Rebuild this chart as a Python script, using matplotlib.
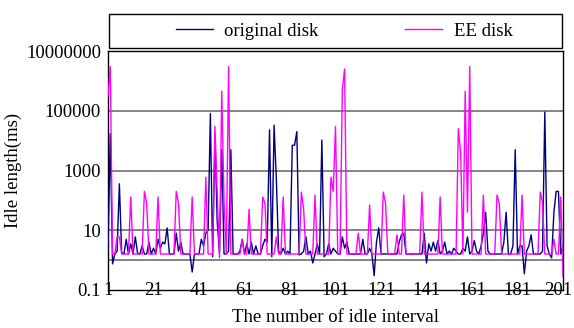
import matplotlib
matplotlib.use("Agg")
import matplotlib.pyplot as plt
import matplotlib.transforms as mtransforms
from matplotlib.patches import Rectangle
from matplotlib.lines import Line2D

plt.rcParams['font.family'] = ['Liberation Serif', 'DejaVu Serif']

# interval index 1..201
idx = list(range(1, 202))

original_disk = [
    2.0, 17000, 0.75, 1.6, 2.0, 360, 1.8, 1.6, 5, 1.6,
    3.5, 1.6, 6, 1.7, 1.6, 3, 1.6, 1.6, 4, 1.6,
    2.5, 1.6, 5, 2.5, 4, 3.5, 12, 1.6, 1.6, 1.6,
    8, 2.0, 4, 1.6, 1.6, 1.6, 1.6, 0.4, 1.6, 1.6,
    1.6, 5, 3, 8, 10, 80000, 1.3, 15000, 20, 1.7,
    5000, 1.6, 1.6, 2, 5000, 1.6, 1.6, 1.6, 2, 5,
    1.6, 3.5, 1.6, 4, 1.6, 3, 1.6, 1.6, 3, 5,
    4, 23000, 1.3, 33000, 500, 2, 1.6, 2.5, 1.6, 2,
    1.6, 7000, 7000, 20000, 1.5, 1.6, 2, 6, 1.6, 2,
    0.8, 1.6, 3.5, 1.6, 10500, 1.3, 1.6, 3.5, 1.6, 2.5,
    2, 1.6, 1.6, 6, 2.5, 4, 1.6, 1.6, 1.6, 1.6,
    1.6, 1.6, 5, 1.6, 1.6, 2.5, 1.6, 0.3, 4, 12,
    1.6, 1.6, 1.6, 1.6, 1.6, 1.6, 1.6, 1.6, 4, 7,
    8, 1.6, 1.6, 1.6, 1.6, 1.6, 1.6, 1.6, 1.6, 8,
    0.8, 3.5, 2, 4, 2, 4.5, 1.6, 2, 4, 1.6,
    2, 1.6, 2.5, 2, 1.6, 1.6, 2.5, 2, 6, 1.6,
    2, 4.5, 2, 1.6, 3, 8, 40, 2, 1.6, 1.6,
    1.6, 1.6, 1.6, 1.6, 4, 40, 1.6, 1.6, 3, 5000,
    1.6, 3, 3, 0.35, 2, 3, 7, 1.6, 1.6, 1.6,
    1.6, 2, 90000, 3, 1.6, 1.2, 40, 200, 200, 1.6,
    3,
]

ee_disk = [
    300000, 3000000, 1.6, 1.6, 6, 6, 1.6, 1.6, 1.6, 1.6,
    130, 1.6, 1.6, 1.6, 1.6, 1.6, 200, 80, 1.6, 1.6,
    1.6, 1.6, 130, 1.6, 1.6, 1.6, 1.6, 1.6, 1.6, 1.6,
    200, 80, 1.6, 1.6, 1.6, 1.6, 1.6, 130, 1.6, 1.6,
    1.6, 1.6, 1.6, 600, 1.6, 1.6, 1.6, 30000, 200, 1.2,
    450000, 100, 1.6, 3000000, 1.6, 1.6, 1.6, 1.6, 1.6, 5,
    1.6, 1.6, 50, 1.6, 1.6, 1.6, 1.6, 1.6, 130, 80,
    1.6, 1.6, 1.6, 1.6, 6, 1.6, 1.6, 130, 1.6, 1.6,
    1.6, 1.6, 1.6, 1.6, 1.6, 190, 50, 1.6, 1.6, 1.6,
    1.6, 150, 1.6, 1.6, 1.6, 1.6, 1.6, 1.6, 600, 200,
    30000, 1.6, 1.6, 500000, 2500000, 1.6, 1.6, 1.6, 1.6, 1.6,
    8, 1.6, 1.6, 1.6, 1.6, 70, 1.6, 1.6, 1.6, 1.6,
    1.6, 190, 80, 1.6, 1.6, 1.6, 1.6, 7, 1.6, 1.6,
    150, 1.6, 1.6, 1.6, 1.6, 1.6, 1.6, 1.6, 190, 1.6,
    1.6, 1.6, 1.6, 1.6, 1.6, 1.6, 130, 1.6, 1.6, 1.6,
    1.6, 1.6, 1.6, 1.6, 25000, 4000, 1.6, 450000, 40, 3000000,
    1.6, 1.6, 1.6, 1.6, 1.6, 150, 1.6, 1.6, 1.6, 1.6,
    1.6, 150, 80, 1.6, 1.6, 1.6, 1.6, 1.6, 1.6, 1.6,
    1.6, 1.6, 150, 1.6, 1.6, 1.6, 1.6, 1.6, 1.6, 1.6,
    190, 80, 1.6, 1.6, 1.6, 1.6, 5, 1.6, 1.6, 130,
    0.28,
]

series_labels = ["original disk", "EE disk"]
y_ticks = [0.1, 10, 1000, 100000, 10000000]
y_tick_labels = ["0.1", "10", "1000", "100000", "10000000"]
x_ticks = list(range(1, 202, 20))

W, H = 574, 328
fig = plt.figure(figsize=(W / 100, H / 100), dpi=100)
ax = fig.add_axes([108 / W, 1 - 290 / H, (563 - 108) / W, (290 - 51) / H])

FS = 13.5
navy = '#000080'
mag = '#FF00FF'

ax.set_yscale('log')
ax.set_ylim(0.1, 1e7)
ax.set_xlim(1, 201)

for g in [10, 1000, 100000, 1]:
    ax.axhline(g, color='#6e6e6e', lw=1.2, zorder=1)

ax.plot(idx, original_disk, color=navy, lw=1.0, zorder=3)
ax.plot(idx, ee_disk, color=mag, lw=1.0, zorder=4)

ax.set_yticks(y_ticks)
ax.set_yticklabels(y_tick_labels, fontsize=FS)
ax.minorticks_off()
ax.set_xticks(x_ticks)
ax.set_xticklabels([str(t) for t in x_ticks], fontsize=FS)
ax.tick_params(axis='y', length=0, pad=5)
ax.tick_params(axis='x', length=0, pad=-6)

# nudge the last x tick label left so it stays inside the figure
last = ax.get_xticklabels()[-1]
last.set_transform(last.get_transform() +
                   mtransforms.ScaledTranslation(-5 / 100, 0, fig.dpi_scale_trans))

for s in ax.spines.values():
    s.set_color('black')
    s.set_linewidth(1.0)

ax.set_ylabel("Idle length(ms)", fontsize=FS, labelpad=4)
ax.yaxis.set_label_coords(-86 / (563 - 108), 0.5)
fig.text(335 / W, 1 - 318 / H, "The number of idle interval", fontsize=FS,
         ha='center', va='center')

# legend box
fig.patches.append(Rectangle((109 / W, 1 - 48 / H), (562 - 109) / W, 34 / H,
                             transform=fig.transFigure, fill=False,
                             edgecolor='black', lw=1.0))
handles = [Line2D([], [], color=navy, lw=1.0), Line2D([], [], color=mag, lw=1.0)]
fig.legend(handles, series_labels, loc='center', bbox_to_anchor=(344 / W, 1 - 31 / H),
           ncol=2, frameon=False, fontsize=FS, handlelength=2.0,
           handletextpad=0.6, columnspacing=4.6)

fig.savefig("out.png", dpi=100)
